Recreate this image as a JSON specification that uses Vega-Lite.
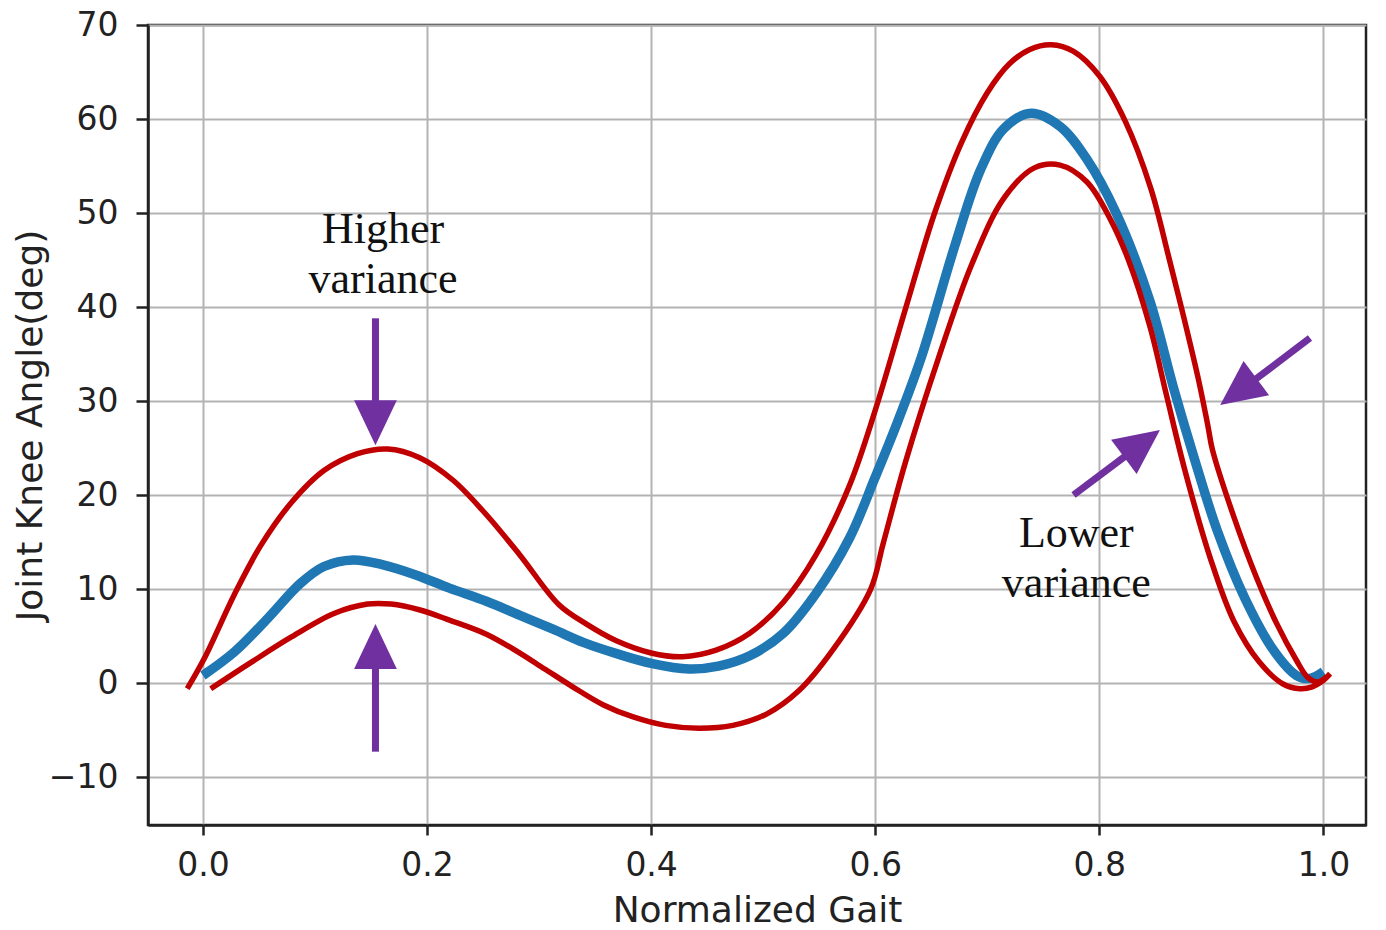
{
  "$schema": "https://vega.github.io/schema/vega-lite/v6.json",
  "width": 1218,
  "height": 800,
  "autosize": {"type": "none"},
  "padding": {"left": 148, "top": 25, "right": 20, "bottom": 105},
  "background": "white",
  "datasets": {
    "curves": [
      {"series": "mean", "gait": 0.0, "angle": 0.8},
      {"series": "mean", "gait": 0.028, "angle": 3.3},
      {"series": "mean", "gait": 0.058, "angle": 6.9},
      {"series": "mean", "gait": 0.087, "angle": 10.6},
      {"series": "mean", "gait": 0.108, "angle": 12.4},
      {"series": "mean", "gait": 0.134, "angle": 13.1},
      {"series": "mean", "gait": 0.16, "angle": 12.6},
      {"series": "mean", "gait": 0.19, "angle": 11.5},
      {"series": "mean", "gait": 0.22, "angle": 10.1},
      {"series": "mean", "gait": 0.253, "angle": 8.7},
      {"series": "mean", "gait": 0.283, "angle": 7.2},
      {"series": "mean", "gait": 0.313, "angle": 5.7},
      {"series": "mean", "gait": 0.34, "angle": 4.3},
      {"series": "mean", "gait": 0.37, "angle": 3.1},
      {"series": "mean", "gait": 0.4, "angle": 2.1},
      {"series": "mean", "gait": 0.434, "angle": 1.5},
      {"series": "mean", "gait": 0.46, "angle": 1.8},
      {"series": "mean", "gait": 0.488, "angle": 2.9},
      {"series": "mean", "gait": 0.518, "angle": 5.3},
      {"series": "mean", "gait": 0.547, "angle": 9.5},
      {"series": "mean", "gait": 0.577, "angle": 15.4},
      {"series": "mean", "gait": 0.6, "angle": 21.9},
      {"series": "mean", "gait": 0.62, "angle": 27.8},
      {"series": "mean", "gait": 0.641, "angle": 34.6},
      {"series": "mean", "gait": 0.671, "angle": 46.5},
      {"series": "mean", "gait": 0.694, "angle": 54.6},
      {"series": "mean", "gait": 0.715, "angle": 59.0},
      {"series": "mean", "gait": 0.739, "angle": 60.6},
      {"series": "mean", "gait": 0.765, "angle": 59.2},
      {"series": "mean", "gait": 0.789, "angle": 55.7},
      {"series": "mean", "gait": 0.815, "angle": 50.0},
      {"series": "mean", "gait": 0.845, "angle": 40.7},
      {"series": "mean", "gait": 0.866, "angle": 31.5},
      {"series": "mean", "gait": 0.884, "angle": 24.2},
      {"series": "mean", "gait": 0.905, "angle": 16.3},
      {"series": "mean", "gait": 0.93, "angle": 9.0},
      {"series": "mean", "gait": 0.956, "angle": 3.4},
      {"series": "mean", "gait": 0.976, "angle": 0.8},
      {"series": "mean", "gait": 0.988, "angle": 0.5},
      {"series": "mean", "gait": 1.0, "angle": 1.2},
      {"series": "upper", "gait": -0.014, "angle": -0.6},
      {"series": "upper", "gait": 0.002, "angle": 2.8},
      {"series": "upper", "gait": 0.028, "angle": 9.4},
      {"series": "upper", "gait": 0.052, "angle": 14.7},
      {"series": "upper", "gait": 0.079, "angle": 19.2},
      {"series": "upper", "gait": 0.108, "angle": 22.6},
      {"series": "upper", "gait": 0.138, "angle": 24.4},
      {"series": "upper", "gait": 0.165, "angle": 24.9},
      {"series": "upper", "gait": 0.193, "angle": 24.0},
      {"series": "upper", "gait": 0.223, "angle": 21.6},
      {"series": "upper", "gait": 0.253, "angle": 17.9},
      {"series": "upper", "gait": 0.283, "angle": 13.6},
      {"series": "upper", "gait": 0.318, "angle": 8.3},
      {"series": "upper", "gait": 0.342, "angle": 6.3},
      {"series": "upper", "gait": 0.369, "angle": 4.5},
      {"series": "upper", "gait": 0.4, "angle": 3.2},
      {"series": "upper", "gait": 0.428, "angle": 2.8},
      {"series": "upper", "gait": 0.458, "angle": 3.5},
      {"series": "upper", "gait": 0.488, "angle": 5.3},
      {"series": "upper", "gait": 0.518, "angle": 8.6},
      {"series": "upper", "gait": 0.547, "angle": 13.6},
      {"series": "upper", "gait": 0.577, "angle": 21.0},
      {"series": "upper", "gait": 0.6, "angle": 29.0},
      {"series": "upper", "gait": 0.627, "angle": 39.8},
      {"series": "upper", "gait": 0.653, "angle": 50.0},
      {"series": "upper", "gait": 0.677, "angle": 57.5},
      {"series": "upper", "gait": 0.7, "angle": 62.8},
      {"series": "upper", "gait": 0.72, "angle": 65.9},
      {"series": "upper", "gait": 0.738, "angle": 67.4},
      {"series": "upper", "gait": 0.757, "angle": 67.9},
      {"series": "upper", "gait": 0.777, "angle": 67.2},
      {"series": "upper", "gait": 0.8, "angle": 64.6},
      {"series": "upper", "gait": 0.823, "angle": 59.8},
      {"series": "upper", "gait": 0.846, "angle": 52.6},
      {"series": "upper", "gait": 0.862, "angle": 45.3},
      {"series": "upper", "gait": 0.876, "angle": 38.6},
      {"series": "upper", "gait": 0.889, "angle": 32.0},
      {"series": "upper", "gait": 0.897, "angle": 27.3},
      {"series": "upper", "gait": 0.901, "angle": 24.8},
      {"series": "upper", "gait": 0.92, "angle": 17.7},
      {"series": "upper", "gait": 0.94, "angle": 11.3},
      {"series": "upper", "gait": 0.958, "angle": 6.4},
      {"series": "upper", "gait": 0.976, "angle": 2.4},
      {"series": "upper", "gait": 0.986, "angle": 0.6},
      {"series": "upper", "gait": 0.995, "angle": 0.1},
      {"series": "upper", "gait": 1.003, "angle": 0.7},
      {"series": "lower", "gait": 0.007, "angle": -0.6},
      {"series": "lower", "gait": 0.043, "angle": 2.2},
      {"series": "lower", "gait": 0.079, "angle": 4.9},
      {"series": "lower", "gait": 0.117, "angle": 7.4},
      {"series": "lower", "gait": 0.147, "angle": 8.4},
      {"series": "lower", "gait": 0.168, "angle": 8.4},
      {"series": "lower", "gait": 0.193, "angle": 7.8},
      {"series": "lower", "gait": 0.22, "angle": 6.7},
      {"series": "lower", "gait": 0.253, "angle": 5.2},
      {"series": "lower", "gait": 0.28, "angle": 3.4},
      {"series": "lower", "gait": 0.305, "angle": 1.5},
      {"series": "lower", "gait": 0.33, "angle": -0.4},
      {"series": "lower", "gait": 0.357, "angle": -2.3},
      {"series": "lower", "gait": 0.384, "angle": -3.6},
      {"series": "lower", "gait": 0.413, "angle": -4.5},
      {"series": "lower", "gait": 0.443, "angle": -4.8},
      {"series": "lower", "gait": 0.473, "angle": -4.5},
      {"series": "lower", "gait": 0.503, "angle": -3.3},
      {"series": "lower", "gait": 0.532, "angle": -0.8},
      {"series": "lower", "gait": 0.562, "angle": 3.5},
      {"series": "lower", "gait": 0.596, "angle": 10.0},
      {"series": "lower", "gait": 0.607, "angle": 14.8},
      {"series": "lower", "gait": 0.627, "angle": 23.5},
      {"series": "lower", "gait": 0.656, "angle": 34.4},
      {"series": "lower", "gait": 0.686, "angle": 44.5},
      {"series": "lower", "gait": 0.715, "angle": 51.6},
      {"series": "lower", "gait": 0.742, "angle": 54.8},
      {"series": "lower", "gait": 0.765, "angle": 55.1},
      {"series": "lower", "gait": 0.789, "angle": 53.3},
      {"series": "lower", "gait": 0.81, "angle": 49.3},
      {"series": "lower", "gait": 0.826, "angle": 45.0},
      {"series": "lower", "gait": 0.845, "angle": 38.0},
      {"series": "lower", "gait": 0.86, "angle": 30.6},
      {"series": "lower", "gait": 0.876, "angle": 22.8},
      {"series": "lower", "gait": 0.899, "angle": 13.3},
      {"series": "lower", "gait": 0.92, "angle": 6.6},
      {"series": "lower", "gait": 0.943, "angle": 2.2},
      {"series": "lower", "gait": 0.964, "angle": -0.1},
      {"series": "lower", "gait": 0.979, "angle": -0.6},
      {"series": "lower", "gait": 0.99, "angle": -0.4},
      {"series": "lower", "gait": 1.0, "angle": 0.3},
      {"series": "lower", "gait": 1.006, "angle": 1.0}
    ],
    "arrows": [
      {"gait": 0.154, "angle": 38.8, "gait2": 0.154, "angle2": 29.8},
      {"gait": 0.154, "angle": -7.3, "gait2": 0.154, "angle2": 1.8},
      {"gait": 0.988, "angle": 36.7, "gait2": 0.937, "angle2": 32.1},
      {"gait": 0.777, "angle": 20.0, "gait2": 0.825, "angle2": 24.3}
    ],
    "heads": [
      {"gait": 0.154, "angle": 27.7, "dir": 180},
      {"gait": 0.154, "angle": 3.9, "dir": 0},
      {"gait": 0.924, "angle": 31.0, "dir": 233.4},
      {"gait": 0.838, "angle": 25.5, "dir": 53.3}
    ],
    "notes": [
      {"gait": 0.1607, "angle": 46.8, "label": "Higher\nvariance"},
      {"gait": 0.7795, "angle": 14.5, "label": "Lower\nvariance"}
    ]
  },
  "encoding": {
    "x": {
      "field": "gait",
      "type": "quantitative",
      "title": "Normalized Gait",
      "scale": {"domain": [-0.049, 1.038], "nice": false, "zero": false},
      "axis": {"values": [0, 0.2, 0.4, 0.6, 0.8, 1.0], "format": ".1f"}
    },
    "y": {
      "field": "angle",
      "type": "quantitative",
      "title": "Joint Knee Angle(deg)",
      "scale": {"domain": [-15.1, 70], "nice": false, "zero": false},
      "axis": {"values": [-10, 0, 10, 20, 30, 40, 50, 60, 70], "format": "d"}
    }
  },
  "layer": [
    {
      "data": {"name": "curves"},
      "transform": [{"filter": "datum.series === 'mean'"}],
      "mark": {"type": "line", "color": "#1f77b4", "strokeWidth": 9.5, "interpolate": "catmull-rom"},
      "encoding": {}
    },
    {
      "data": {"name": "curves"},
      "transform": [{"filter": "datum.series !== 'mean'"}],
      "mark": {"type": "line", "color": "#c00000", "strokeWidth": 5.5, "interpolate": "catmull-rom"},
      "encoding": {"detail": {"field": "series", "type": "nominal"}}
    },
    {
      "data": {"name": "arrows"},
      "mark": {"type": "rule", "color": "#7030a0", "strokeWidth": 7},
      "encoding": {"x2": {"field": "gait2"}, "y2": {"field": "angle2"}}
    },
    {
      "data": {"name": "heads"},
      "mark": {"type": "point", "shape": "M0,-1L0.95,1L-0.95,1Z", "size": 2025, "filled": true, "color": "#7030a0", "opacity": 1, "strokeWidth": 0},
      "encoding": {"angle": {"field": "dir", "type": "quantitative", "scale": null}}
    },
    {
      "data": {"name": "notes"},
      "mark": {"type": "text", "font": "Liberation Serif", "fontSize": 44, "align": "center", "baseline": "alphabetic", "lineBreak": "\n", "lineHeight": 50, "color": "#111111"},
      "encoding": {"text": {"field": "label", "type": "nominal"}}
    }
  ],
  "config": {
    "view": {"stroke": "#222222", "strokeWidth": 2.5},
    "axis": {
      "labelFont": "DejaVu Sans",
      "titleFont": "DejaVu Sans",
      "labelFontSize": 33,
      "titleFontSize": 36,
      "titleFontWeight": "normal",
      "labelColor": "#222222",
      "titleColor": "#222222",
      "domainColor": "#222222",
      "domainWidth": 2.5,
      "tickColor": "#222222",
      "tickWidth": 2.5,
      "grid": true,
      "gridColor": "#b3b3b3",
      "gridWidth": 2,
      "labelOverlap": false,
      "labelFlush": false
    },
    "axisX": {"tickSize": 10, "labelPadding": 40, "labelBaseline": "alphabetic", "titleY": 96, "titleBaseline": "alphabetic"},
    "axisY": {"tickSize": 12, "labelPadding": 18, "titleX": -107, "titleBaseline": "alphabetic", "labelBaseline": "middle"}
  }
}
